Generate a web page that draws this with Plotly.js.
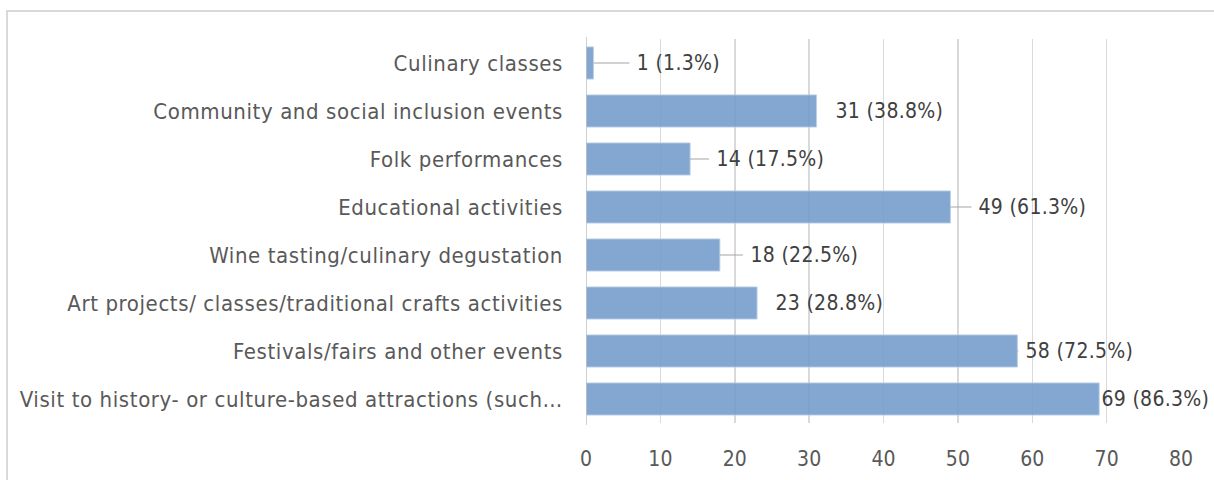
<!DOCTYPE html>
<html><head><meta charset="utf-8">
<script src="https://cdn.plot.ly/plotly-3.0.1.min.js"></script>
<style>
html,body{margin:0;padding:0;width:1214px;height:480px;overflow:hidden;background:#fff;}
#frame{position:absolute;left:6px;top:10px;width:1300px;height:600px;border:2px solid #d9d9d9;box-sizing:border-box;}
#chart{position:absolute;left:0;top:0;width:1214px;height:480px;}
#chart .ytick text{letter-spacing:0.6px;}
#chart .annotation-text{letter-spacing:0.3px;}
</style></head>
<body>
<div id="frame"></div>
<div id="chart"></div>
<script>
const categories = [
  "Culinary classes",
  "Community and social inclusion events",
  "Folk performances",
  "Educational activities",
  "Wine tasting/culinary degustation",
  "Art projects/ classes/traditional crafts activities",
  "Festivals/fairs and other events",
  "Visit to history- or culture-based attractions (such…"
];
const counts = [1, 31, 14, 49, 18, 23, 58, 69];
const percents = [1.3, 38.8, 17.5, 61.3, 22.5, 28.8, 72.5, 86.3];
const xTicks = [0, 10, 20, 30, 40, 50, 60, 70, 80];

// label offsets (px) from bar end to text start, and whether a leader line is shown
const labelOffsets = [44, 19, 27, 29, 31, 19, 9, 3];
const showLeader = [true, false, true, true, true, false, true, false];
const PAD = 8;

const FONT = "DejaVu Sans Condensed, DejaVu Sans, sans-serif";

const trace = {
  type: "bar",
  orientation: "h",
  y: categories,
  x: counts,
  marker: {color: "rgb(118,158,204)", opacity: 0.9, line: {color: "rgba(180,205,232,0.9)", width: 1}},
  hoverinfo: "none"
};

const annotations = categories.map((c, i) => ({
  x: counts[i], y: c, xref: "x", yref: "y",
  text: counts[i] + " (" + percents[i].toFixed(1) + "%)",
  showarrow: true, arrowhead: 0, arrowwidth: 1.2,
  arrowcolor: showLeader[i] ? "#a6a6a6" : "rgba(0,0,0,0)",
  ax: showLeader[i] ? Math.max(labelOffsets[i] - PAD, 0) : labelOffsets[i],
  ay: 0, xanchor: "left",
  standoff: 0, startstandoff: 0, borderpad: showLeader[i] ? PAD : 0,
  font: {family: FONT, size: 21, color: "#404040"}
}));

const layout = {
  width: 1214, height: 480,
  margin: {l: 586, r: 33, t: 39, b: 57, pad: 0},
  paper_bgcolor: "rgba(0,0,0,0)",
  plot_bgcolor: "rgba(0,0,0,0)",
  showlegend: false,
  bargap: 0.33,
  xaxis: {
    range: [0, 80], tickvals: xTicks, ticktext: xTicks.map(String),
    showgrid: true, gridcolor: "#d9d9d9", gridwidth: 1.5,
    zeroline: false, showline: false, ticks: "",
    ticklabelstandoff: 21,
    tickfont: {family: FONT, size: 21, color: "#595959"},
    fixedrange: true
  },
  yaxis: {
    autorange: "reversed", type: "category",
    showgrid: false, zeroline: false,
    showline: false, ticks: "",
    ticklabelstandoff: 22,
    tickfont: {family: FONT, size: 22, color: "#595959"},
    fixedrange: true
  },
  shapes: [{
    type: "line", xref: "x", yref: "paper", x0: 0, x1: 0, y0: -0.005, y1: 1.005,
    line: {color: "#bfbfbf", width: 1.5}
  }],
  annotations: annotations
};

Plotly.newPlot("chart", [trace], layout, {displayModeBar: false, staticPlot: true});
</script>
</body></html>
